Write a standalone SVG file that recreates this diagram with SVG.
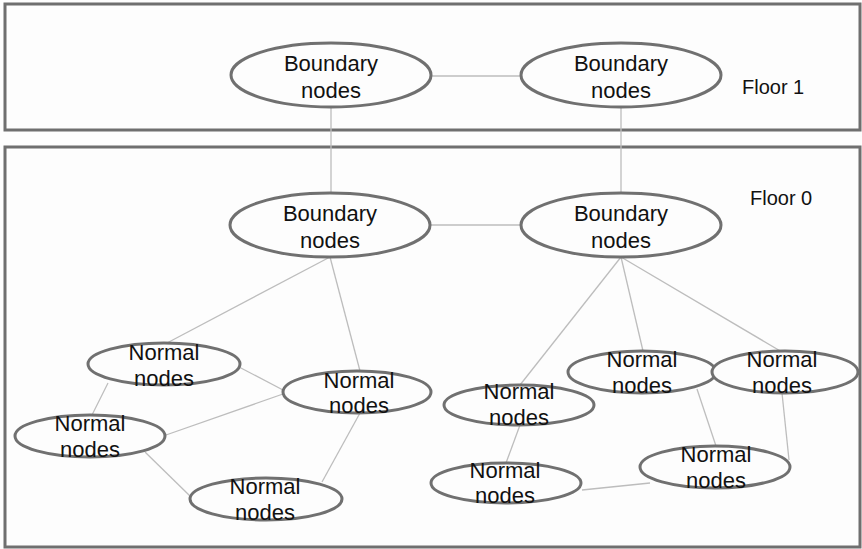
<svg xmlns="http://www.w3.org/2000/svg" width="862" height="549" viewBox="0 0 862 549">
  <style>
    .floor { fill: #fdfdfd; stroke: #6f6f6f; stroke-width: 3; }
    .node ellipse { fill: #fdfdfd; stroke: #707070; stroke-width: 3; }
    .node text { font-family: "Liberation Sans", Arial, sans-serif; font-size: 22px; fill: #111; text-anchor: middle; }
    .label { font-family: "Liberation Sans", Arial, sans-serif; font-size: 20px; fill: #111; }
    #connectors line { stroke: #bdbdbd; stroke-width: 1.3; }
  </style>
  <rect x="0" y="0" width="862" height="549" fill="#fdfdfd"/>

  <!-- floors -->
  <rect id="floor1" class="floor" x="5" y="4" width="855" height="126"/>
  <rect id="floor0" class="floor" x="5" y="147" width="855" height="400"/>
  <text class="label" x="742" y="94">Floor 1</text>
  <text class="label" x="750" y="205">Floor 0</text>

  <!-- connectors -->
  <g id="connectors">
    <!-- floor 1 -->
    <line x1="431" y1="76" x2="521" y2="76"/>
    <!-- between floors -->
    <line x1="331" y1="107" x2="331" y2="193"/>
    <line x1="621" y1="107" x2="621" y2="193"/>
    <!-- floor 0 boundary link -->
    <line x1="430" y1="225" x2="521" y2="225"/>
    <!-- left cluster -->
    <line x1="330" y1="257" x2="167" y2="343"/>
    <line x1="330" y1="257" x2="360" y2="371"/>
    <line x1="239" y1="367" x2="283" y2="390"/>
    <line x1="108" y1="383" x2="92" y2="415"/>
    <line x1="166" y1="435" x2="283" y2="394"/>
    <line x1="145" y1="452" x2="190" y2="496"/>
    <line x1="360" y1="413" x2="322" y2="482"/>
    <!-- right cluster -->
    <line x1="621" y1="257" x2="520" y2="385"/>
    <line x1="621" y1="257" x2="643" y2="351"/>
    <line x1="621" y1="257" x2="782" y2="352"/>
    <line x1="706" y1="373" x2="716" y2="373"/>
    <line x1="697" y1="389" x2="716" y2="446"/>
    <line x1="782" y1="393" x2="789" y2="460"/>
    <line x1="520" y1="425" x2="506" y2="463"/>
    <line x1="582" y1="490" x2="650" y2="483"/>
  </g>

  <!-- floor 1 boundary nodes -->
  <g id="b1-left" class="node">
    <ellipse cx="331" cy="75" rx="100" ry="32"/>
    <text x="331" y="71">Boundary</text>
    <text x="331" y="98">nodes</text>
  </g>
  <g id="b1-right" class="node">
    <ellipse cx="621" cy="75" rx="100" ry="32"/>
    <text x="621" y="71">Boundary</text>
    <text x="621" y="98">nodes</text>
  </g>

  <!-- floor 0 boundary nodes -->
  <g id="b0-left" class="node">
    <ellipse cx="330" cy="225" rx="100" ry="32"/>
    <text x="330" y="221">Boundary</text>
    <text x="330" y="248">nodes</text>
  </g>
  <g id="b0-right" class="node">
    <ellipse cx="621" cy="225" rx="100" ry="32"/>
    <text x="621" y="221">Boundary</text>
    <text x="621" y="248">nodes</text>
  </g>

  <!-- floor 0 normal nodes, left cluster -->
  <g id="n1" class="node">
    <ellipse cx="164" cy="364" rx="76" ry="21"/>
    <text x="164" y="360">Normal</text>
    <text x="164" y="386">nodes</text>
  </g>
  <g id="n2" class="node">
    <ellipse cx="357" cy="392" rx="74" ry="21"/>
    <text x="359" y="388">Normal</text>
    <text x="359" y="413">nodes</text>
  </g>
  <g id="n3" class="node">
    <ellipse cx="90" cy="436" rx="75" ry="21"/>
    <text x="90" y="431">Normal</text>
    <text x="90" y="457">nodes</text>
  </g>
  <g id="n4" class="node">
    <ellipse cx="266" cy="499" rx="76" ry="21"/>
    <text x="265" y="494">Normal</text>
    <text x="265" y="520">nodes</text>
  </g>

  <!-- floor 0 normal nodes, right cluster -->
  <g id="r1" class="node">
    <ellipse cx="519" cy="405" rx="75" ry="20"/>
    <text x="519" y="399">Normal</text>
    <text x="519" y="425">nodes</text>
  </g>
  <g id="r2" class="node">
    <ellipse cx="642" cy="372" rx="74" ry="21"/>
    <text x="642" y="367">Normal</text>
    <text x="642" y="393">nodes</text>
  </g>
  <g id="r3" class="node">
    <ellipse cx="785" cy="372" rx="73" ry="21"/>
    <text x="782" y="367">Normal</text>
    <text x="782" y="393">nodes</text>
  </g>
  <g id="r4" class="node">
    <ellipse cx="715" cy="467" rx="75" ry="21"/>
    <text x="716" y="462">Normal</text>
    <text x="716" y="488">nodes</text>
  </g>
  <g id="r5" class="node">
    <ellipse cx="506" cy="483" rx="75" ry="20"/>
    <text x="505" y="478">Normal</text>
    <text x="505" y="503">nodes</text>
  </g>
</svg>
